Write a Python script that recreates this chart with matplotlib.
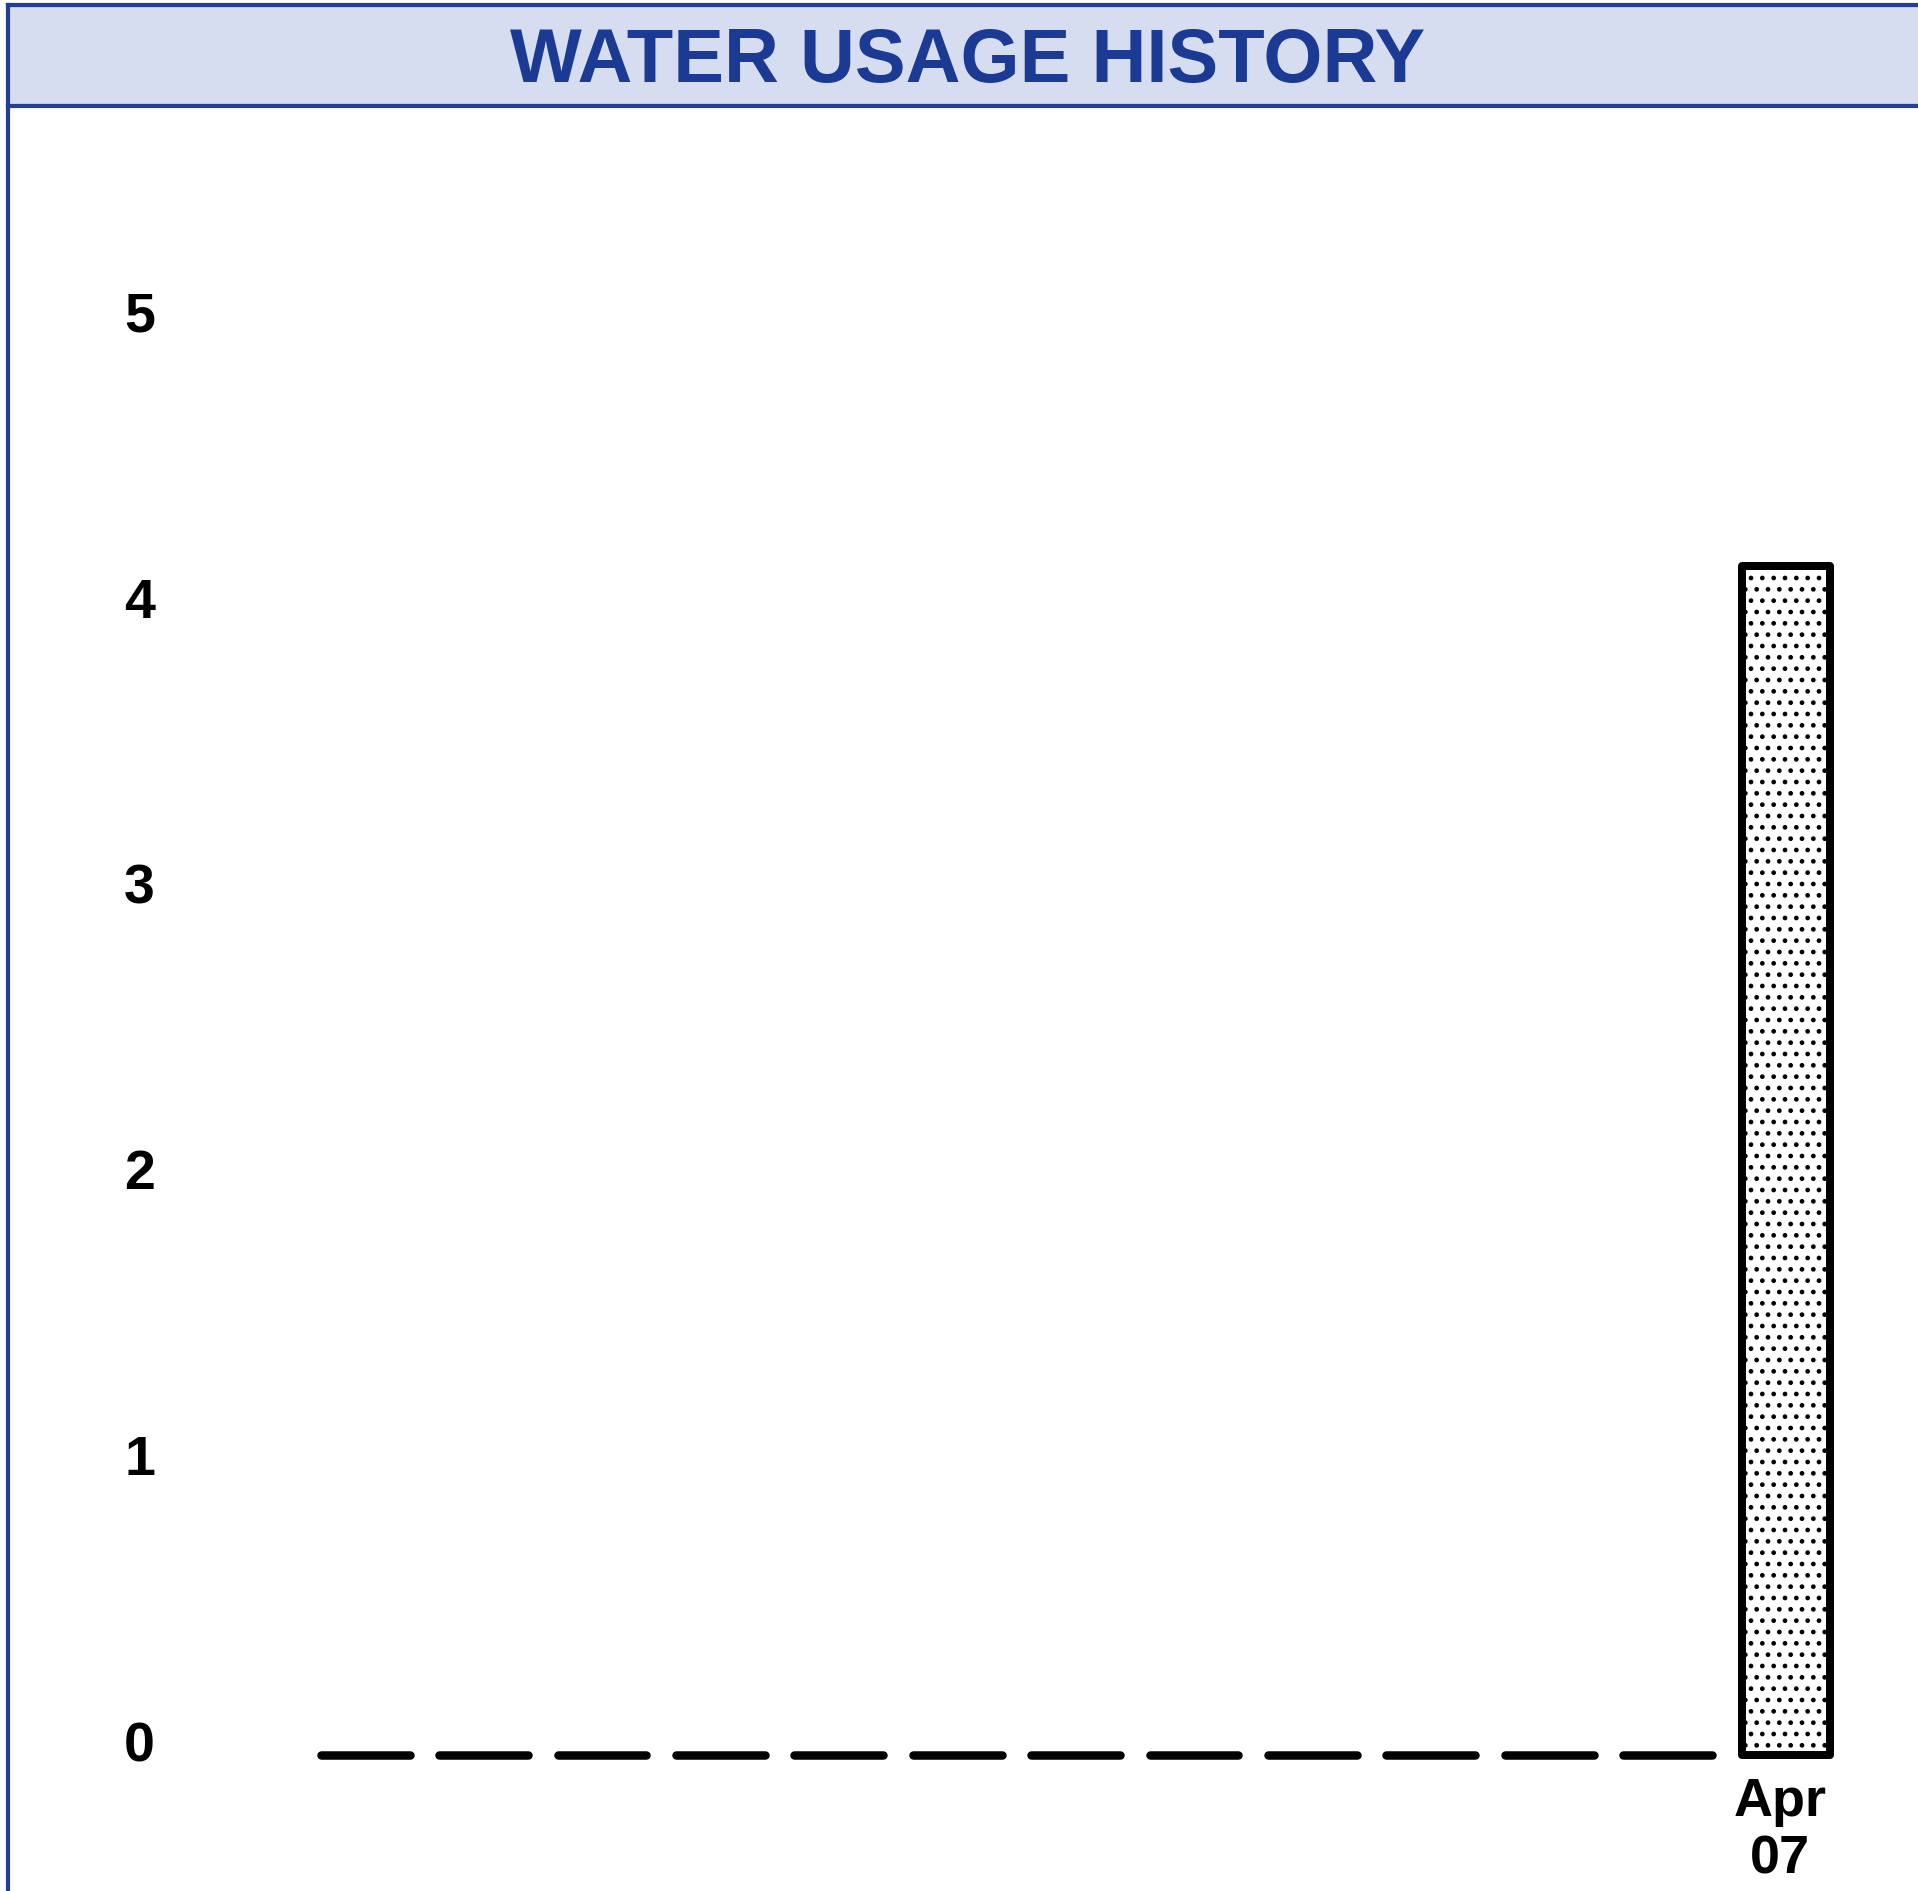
import matplotlib
matplotlib.use('Agg')
import matplotlib.pyplot as plt
import matplotlib.transforms as mtransforms
from matplotlib.patches import Rectangle
from matplotlib.lines import Line2D
#-----------------------------
title_text = 'WATER USAGE HISTORY'
months = ['Apr\n06', 'May\n06', 'Jun\n06', 'Jul\n06', 'Aug\n06', 'Sep\n06', 'Oct\n06',
          'Nov\n06', 'Dec\n06', 'Jan\n07', 'Feb\n07', 'Mar\n07', 'Apr\n07']
usage = [0, 0, 0, 0, 0, 0, 0, 0, 0, 0, 0, 0, 4.16]
y_ticks = [0, 1, 2, 3, 4, 5]

DPI = 136  # chosen so the '..' hatch spacing matches the printed dot screen
W, H = 1918.0, 1891.0
navy = '#233f93'
title_blue = '#1a3a94'
band_fill = '#d6ddf1'
bar_width = 0.75
myfont = 'Liberation Sans'
plt.rcParams['font.family'] = [myfont, 'DejaVu Sans']


def pt(px):
    # pixels -> points at the output dpi
    return px * 72.0 / DPI


plt.rcParams['hatch.linewidth'] = pt(2.4)
#-----------------------------


def draw_chart():
    fig = plt.figure(figsize=((W + 0.01) / DPI, (H + 0.01) / DPI), dpi=DPI)

    # title band and page frame
    fig.patches.append(Rectangle((8 / W, 1 - 106 / H), 1 - 8 / W, 101 / H,
                                 transform=fig.transFigure, facecolor=band_fill,
                                 edgecolor='none', zorder=0))
    for yy in (5, 106):
        fig.lines.append(Line2D([8 / W, 1], [1 - yy / H, 1 - yy / H],
                                transform=fig.transFigure, color=navy, linewidth=pt(4.2)))
    fig.lines.append(Line2D([8 / W, 8 / W], [0, 1 - 5 / H],
                            transform=fig.transFigure, color=navy, linewidth=pt(4.2)))
    fig.text(968 / W, 1 - 82 / H, title_text, ha='center', va='baseline',
             fontsize=pt(76), fontweight='bold', color=title_blue)

    ax = fig.add_axes([0.1595, 0.0719, 0.8025, 0.8464])
    x = list(range(len(months)))

    bar_x = [i for i, v in zip(x, usage) if v > 0]
    bar_v = [v for v in usage if v > 0]
    ax.bar(bar_x, bar_v, width=bar_width, facecolor='white', edgecolor='black',
           linewidth=pt(8), hatch='..', joinstyle='round', clip_on=False, zorder=3)

    zero_x = [i for i, v in zip(x, usage) if v == 0]
    lc = ax.hlines([0] * len(zero_x), [i - bar_width / 2 for i in zero_x],
                   [i + bar_width / 2 for i in zero_x], colors='black',
                   linewidth=pt(8.5), clip_on=False)
    lc.set_capstyle('round')

    ax.set_xlim(-0.5, len(months) - 0.5)
    ax.set_ylim(0, 5.6)
    for s in ax.spines.values():
        s.set_visible(False)

    ax.set_yticks(y_ticks)
    ax.set_yticklabels([str(t) for t in y_ticks], fontsize=pt(55.5), fontweight='bold')
    ax.tick_params(axis='y', length=0, pad=pt(151))
    up = mtransforms.ScaledTranslation(0, 14.0 / DPI, fig.dpi_scale_trans)
    for lab in ax.get_yticklabels():
        lab.set_transform(lab.get_transform() + up)

    ax.set_xticks(x)
    ax.set_xticklabels([m if v > 0 else '' for m, v in zip(months, usage)],
                       fontsize=pt(54), fontweight='bold', linespacing=1.18)
    ax.tick_params(axis='x', length=0, pad=pt(22))
    left = mtransforms.ScaledTranslation(-6.0 / DPI, 0, fig.dpi_scale_trans)
    for lab in ax.get_xticklabels():
        lab.set_transform(lab.get_transform() + left)
    ax.patch.set_alpha(0)

    fig.savefig('out.png', dpi=DPI)


def main():
    draw_chart()


if __name__ == "__main__":
    main()
